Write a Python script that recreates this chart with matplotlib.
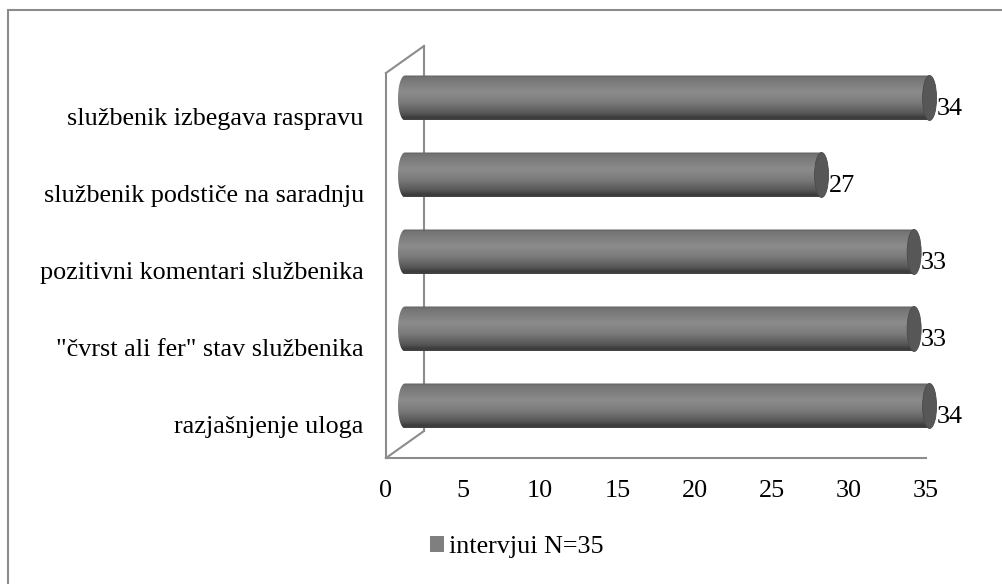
import numpy as np
import matplotlib
matplotlib.use("Agg")
import matplotlib.pyplot as plt
from matplotlib.path import Path
from matplotlib.patches import PathPatch, Ellipse, Patch, Rectangle
from matplotlib.transforms import ScaledTranslation
from matplotlib.colors import LinearSegmentedColormap

categories = [
    "službenik izbegava raspravu",
    "službenik podstiče na saradnju",
    "pozitivni komentari službenika",
    "\"čvrst ali fer\" stav službenika",
    "razjašnjenje uloga",
]
values = [34, 27, 33, 33, 34]
xticks = [0, 5, 10, 15, 20, 25, 30, 35]
legend_label = "intervjui N=35"

plt.rcParams['font.family'] = ['Liberation Serif', 'DejaVu Serif']
FS = 18.8

W, H = 1003, 584
fig = plt.figure(figsize=(W / 100, H / 100), dpi=100)
fig.patch.set_facecolor('white')

# axes = front plane of the 3D box
x0p, x1p, y0p, y1p = 386, 926, 73, 458
ax = fig.add_axes([x0p / W, 1 - y1p / H, (x1p - x0p) / W, (y1p - y0p) / H])
ax.set_xlim(0, 35)
ax.set_ylim(len(categories), 0)
ax.set_facecolor('none')
for s in ax.spines.values():
    s.set_visible(False)

dpi = fig.dpi
depth = ScaledTranslation(38 / dpi, 27 / dpi, fig.dpi_scale_trans)
half = ScaledTranslation(19 / dpi, 13.5 / dpi, fig.dpi_scale_trans)
tr_back = ax.transData + depth
tr_mid = ax.transData + half

wall_c = '#8c8c8c'
lw = 1.5
n = len(categories)
ax.plot([0, 0], [0, n], color=wall_c, lw=lw, clip_on=False, zorder=1)
ax.plot([0, 0], [0, n], color=wall_c, lw=lw, transform=tr_back, clip_on=False, zorder=1)
ax.plot([0, 35], [n, n], color=wall_c, lw=lw, clip_on=False, zorder=1)
inv = fig.transFigure.inverted()
for yv in (0, n):
    a = inv.transform(ax.transData.transform((0, yv)))
    b = inv.transform(tr_back.transform((0, yv)))
    fig.add_artist(plt.Line2D([a[0], b[0]], [a[1], b[1]], color=wall_c, lw=lw, zorder=1))

# cylinder bars
cmap = LinearSegmentedColormap.from_list('cyl', [
    (0.0, '#626262'), (0.06, '#747474'), (0.38, '#8c8c8c'),
    (0.62, '#7a7a7a'), (0.86, '#555555'), (0.95, '#3a3a3a'), (1.0, '#454545')])
grad = np.linspace(0, 1, 200).reshape(-1, 1)
bh = 45 / 77.0
ew = 14 / (540 / 35)
for i, v in enumerate(values):
    yc = i + 0.5
    t = np.linspace(np.pi / 2, 3 * np.pi / 2, 40)
    xs = list((ew / 2) * np.cos(t))
    ys = list(yc - (bh / 2) * np.sin(t))
    xs += [v, v]
    ys += [yc + bh / 2, yc - bh / 2]
    verts = list(zip(xs, ys)) + [(xs[0], ys[0])]
    codes = [Path.MOVETO] + [Path.LINETO] * (len(verts) - 2) + [Path.CLOSEPOLY]
    body = PathPatch(Path(verts, codes), facecolor='none', edgecolor='none',
                     transform=tr_mid, clip_on=False)
    ax.add_patch(body)
    im = ax.imshow(grad, cmap=cmap, aspect='auto', interpolation='bilinear',
                   extent=[-ew / 2, v, yc + bh / 2, yc - bh / 2], zorder=2)
    im.set_transform(tr_mid)
    im.set_clip_box(fig.bbox)
    im.set_clip_path(body)
    cap = Ellipse((v, yc), ew, bh, facecolor='#575757', edgecolor='#4a4a4a', lw=0.6,
                  transform=tr_mid, zorder=3, clip_on=False)
    ax.add_patch(cap)
    ax.text(v, yc, str(v), fontsize=FS, ha='left', va='center', color='black',
            transform=ax.transData + ScaledTranslation(26 / dpi, 2.5 / dpi, fig.dpi_scale_trans),
            zorder=4)

ax.set_xlim(0, 35)
ax.set_ylim(n, 0)
ax.set_xticks(xticks)
ax.set_xticklabels([str(x) for x in xticks], fontsize=FS)
ax.set_yticks([i + 0.5 for i in range(n)])
ax.set_yticklabels(categories, fontsize=FS)
ax.tick_params(axis='x', length=0, pad=15.5)
ax.tick_params(axis='y', length=0, pad=16)
for lab in ax.get_yticklabels():
    lab.set_transform(lab.get_transform() + ScaledTranslation(0, -5 / dpi, fig.dpi_scale_trans))

fig.legend(handles=[Patch(facecolor='#7f7f7f', edgecolor='none', label=legend_label)],
           loc='center', bbox_to_anchor=(517 / W, 1 - 547 / H), frameon=False,
           fontsize=FS, handlelength=0.55, handleheight=0.55, handletextpad=0.2)

fig.add_artist(Rectangle((8 / W, -0.1), 1.2, 1 - 10 / H + 0.1, transform=fig.transFigure,
                         facecolor='none', edgecolor='#8c8c8c', lw=1.5))

fig.savefig('out.png', dpi=100, facecolor='white')
